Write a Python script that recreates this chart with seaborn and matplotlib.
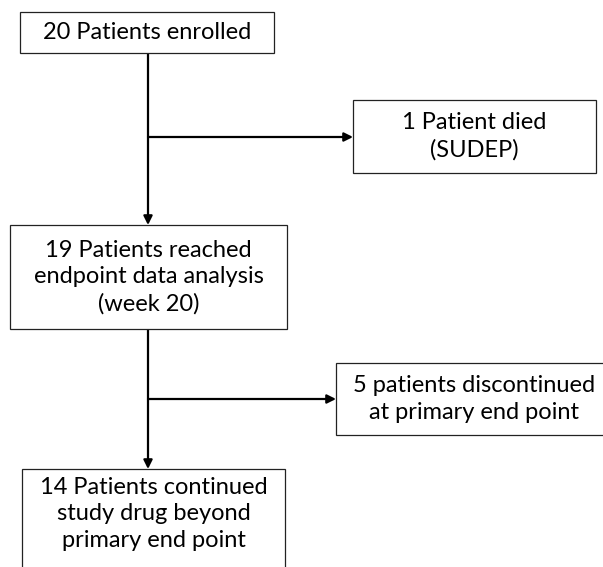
import matplotlib.pyplot as plt
import seaborn as sns
from matplotlib.patches import Rectangle

# Flow of patients through the study
main_labels = ['20 Patients enrolled',
               '19 Patients reached\nendpoint data analysis\n(week 20)',
               '14 Patients continued\nstudy drug beyond\nprimary end point']
side_labels = ['1 Patient died\n(SUDEP)',
               '5 patients discontinued\nat primary end point']

sns.set_theme(style='white')
plt.rcParams['font.family'] = ['Lato', 'DejaVu Sans']

fig = plt.figure(figsize=(6.03, 5.67), dpi=100)
ax = fig.add_axes([0, 0, 1, 1])
ax.set_xlim(0, 603)
ax.set_ylim(567, 0)
ax.axis('off')

# box geometry (x0, y0, x1, y1) in pixels
main_boxes = [(20, 12, 274, 53), (10, 225, 287, 329), (22, 469, 285, 580)]
side_boxes = [(353, 100, 596, 173), (336, 363, 612, 435)]
spine_x = 148
branch_y = [137, 399]


def draw_box(box, text, text_y=None):
    x0, y0, x1, y1 = box
    ax.add_patch(Rectangle((x0, y0), x1 - x0, y1 - y0, fill=True,
                           facecolor='white', edgecolor='#222222',
                           linewidth=0.9, clip_on=True, zorder=3))
    ty = (y0 + y1) / 2 if text_y is None else text_y
    ax.text((x0 + x1) / 2, ty, text, ha='center', va='center',
            fontsize=17, linespacing=1.32, color='black', zorder=4)


arrow = dict(arrowstyle='-|>', color='black', lw=1.6,
             mutation_scale=13, shrinkA=0, shrinkB=0)

# vertical spine arrows
for upper, lower in zip(main_boxes[:-1], main_boxes[1:]):
    ax.annotate('', xy=(spine_x, lower[1]), xytext=(spine_x, upper[3]),
                arrowprops=arrow, zorder=2)

# side branches
for y, box in zip(branch_y, side_boxes):
    ax.annotate('', xy=(box[0], y), xytext=(spine_x, y),
                arrowprops=arrow, zorder=2)

for i, (box, label) in enumerate(zip(main_boxes, main_labels)):
    draw_box(box, label, text_y=514 if i == 2 else None)
for box, label in zip(side_boxes, side_labels):
    draw_box(box, label)

fig.savefig('out.png', dpi=100)
